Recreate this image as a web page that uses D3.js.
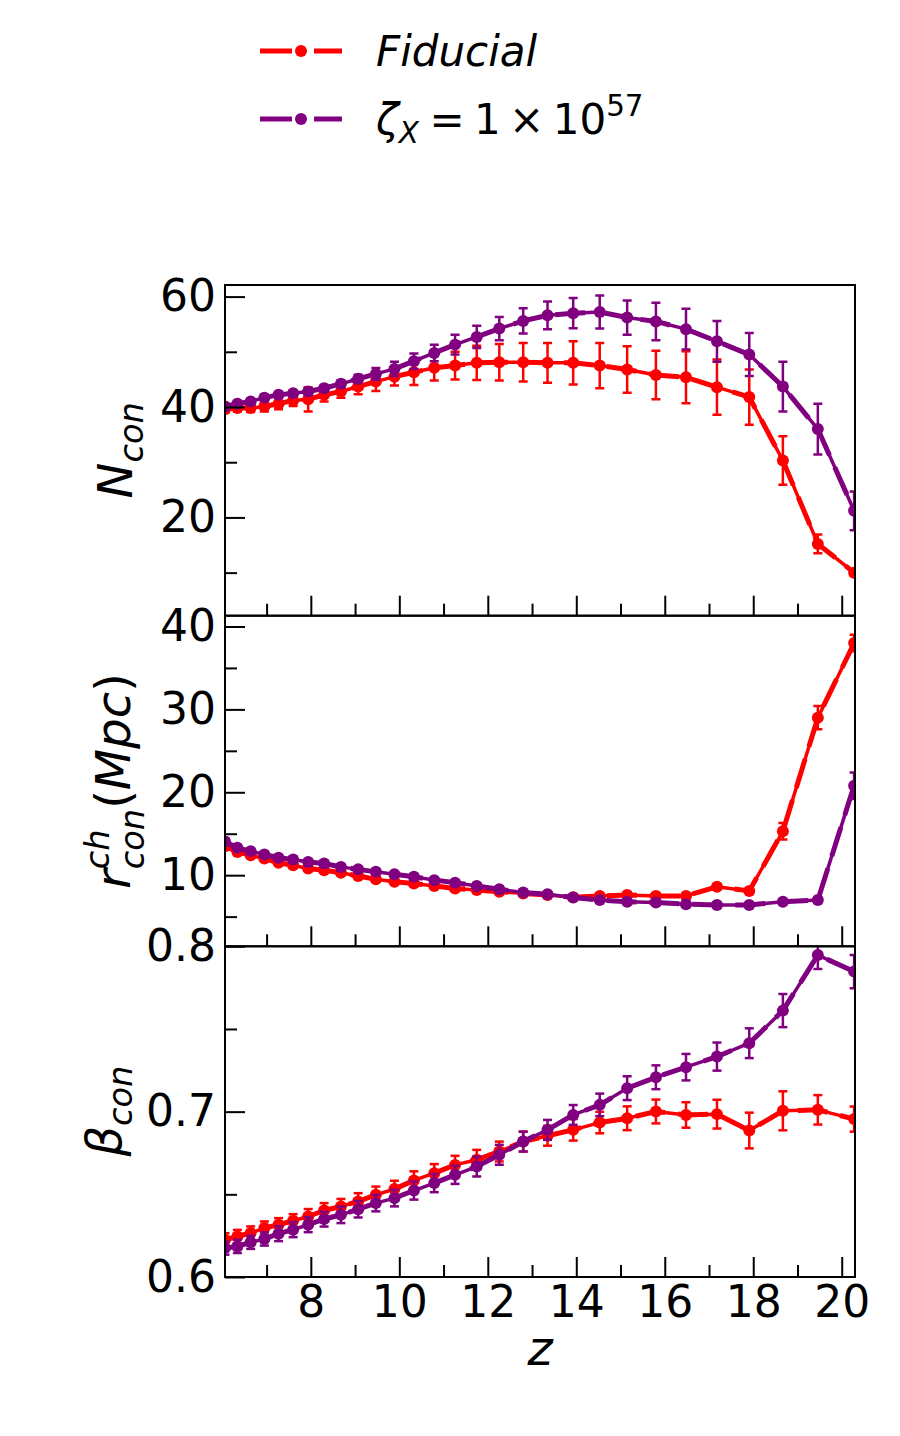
<!DOCTYPE html>
<html><head><meta charset="utf-8">
<script src="https://cdn.jsdelivr.net/npm/d3@7"></script>
<style>body{margin:0;background:#fff} svg{display:block} text{font-family:"DejaVu Sans",sans-serif;fill:#000}</style>
</head><body><svg id="c" width="900" height="1436"></svg>
<script>
// ---------- data ----------
const z = [6.06, 6.34, 6.64, 6.95, 7.27, 7.60, 7.94, 8.30, 8.68, 9.07, 9.47, 9.89, 10.33, 10.79, 11.26, 11.75, 12.26, 12.80, 13.35, 13.93, 14.53, 15.15, 15.80, 16.48, 17.18, 17.91, 18.67, 19.46, 20.28];

const seriesNames = ["Fiducial", "zeta"];

const Ncon_fid = [39.6, 39.8, 39.8, 40.1, 40.6, 41.2, 41.4, 42.2, 42.8, 43.7, 44.6, 45.5, 46.3, 47.1, 47.5, 48.0, 48.1, 48.1, 48.0, 48.0, 47.5, 46.8, 45.8, 45.4, 43.6, 41.8, 30.3, 15.2, 10.0];
const Ncon_fid_err = [0.6, 0.6, 0.7, 0.9, 1.0, 1.0, 2.2, 1.2, 1.1, 1.4, 1.7, 1.6, 2.3, 2.3, 2.5, 3.1, 3.3, 3.5, 3.6, 3.9, 4.1, 4.2, 4.4, 4.7, 5.0, 5.0, 4.4, 1.7, 0.6];
const Ncon_zeta = [40.1, 40.6, 41.0, 41.7, 42.2, 42.5, 42.8, 43.4, 44.2, 45.1, 46.0, 46.9, 48.3, 49.8, 51.3, 52.7, 54.2, 55.6, 56.6, 57.0, 57.2, 56.2, 55.5, 54.1, 51.9, 49.5, 43.7, 36.0, 21.2];
const Ncon_zeta_err = [0.5, 0.5, 0.5, 0.5, 0.5, 0.5, 0.6, 0.6, 0.6, 0.75, 1.05, 1.3, 1.4, 1.5, 1.8, 2.0, 2.1, 2.3, 2.5, 2.75, 3.0, 3.1, 3.4, 3.7, 3.7, 3.9, 4.5, 4.6, 3.5];

const rcon_fid = [13.5, 12.8, 12.4, 12.0, 11.5, 11.2, 10.8, 10.6, 10.3, 9.9, 9.5, 9.2, 9.0, 8.7, 8.4, 8.2, 8.0, 7.8, 7.6, 7.35, 7.5, 7.6, 7.5, 7.5, 8.6, 8.1, 15.3, 29.0, 38.0];
const rcon_fid_err = [0.3, 0.3, 0.3, 0.3, 0.3, 0.3, 0.3, 0.3, 0.3, 0.3, 0.3, 0.3, 0.3, 0.3, 0.3, 0.3, 0.3, 0.3, 0.3, 0.3, 0.3, 0.3, 0.3, 0.3, 0.3, 0.3, 1.0, 1.4, 1.0];
const rcon_zeta = [14.05, 13.3, 12.9, 12.5, 12.1, 11.9, 11.6, 11.4, 11.0, 10.7, 10.4, 10.1, 9.8, 9.4, 9.1, 8.7, 8.3, 7.9, 7.7, 7.3, 7.0, 6.8, 6.7, 6.5, 6.4, 6.4, 6.8, 7.0, 20.8];
const rcon_zeta_err = [0.3, 0.3, 0.3, 0.3, 0.3, 0.3, 0.3, 0.3, 0.3, 0.3, 0.3, 0.3, 0.3, 0.3, 0.3, 0.3, 0.3, 0.3, 0.3, 0.3, 0.3, 0.3, 0.3, 0.3, 0.3, 0.3, 0.3, 0.3, 1.6];

const beta_fid = [0.6225, 0.6245, 0.6266, 0.6296, 0.6316, 0.634, 0.6366, 0.6402, 0.6427, 0.6457, 0.6497, 0.6532, 0.6584, 0.6628, 0.6678, 0.6709, 0.6759, 0.6819, 0.6854, 0.689, 0.6934, 0.696, 0.7001, 0.698, 0.6985, 0.6886, 0.7005, 0.7011, 0.6955];
const beta_fid_err = [0.004, 0.004, 0.004, 0.004, 0.004, 0.004, 0.0045, 0.0045, 0.0045, 0.005, 0.005, 0.005, 0.0055, 0.0055, 0.0055, 0.006, 0.006, 0.006, 0.006, 0.0065, 0.0065, 0.0072, 0.0072, 0.0077, 0.0087, 0.0108, 0.0118, 0.0089, 0.0076];
const beta_zeta = [0.6175, 0.6185, 0.621, 0.623, 0.6262, 0.6286, 0.6316, 0.635, 0.6376, 0.641, 0.6447, 0.6477, 0.6523, 0.6568, 0.6618, 0.6668, 0.6739, 0.6819, 0.689, 0.698, 0.7041, 0.7142, 0.7208, 0.7269, 0.7333, 0.7414, 0.7611, 0.7947, 0.7847];
const beta_zeta_err = [0.004, 0.004, 0.004, 0.004, 0.0045, 0.0045, 0.0045, 0.0045, 0.005, 0.005, 0.005, 0.005, 0.0055, 0.0055, 0.0055, 0.006, 0.006, 0.006, 0.006, 0.006, 0.0068, 0.0072, 0.0072, 0.008, 0.0085, 0.009, 0.010, 0.0085, 0.010];

const xMajor = [8, 10, 12, 14, 16, 18, 20];
const xMinor = [7, 9, 11, 13, 15, 17, 19];
const N_major = [20, 40, 60], N_minor = [10, 30, 50];
const r_major = [10, 20, 30, 40], r_minor = [5, 15, 25, 35];
const b_major = [0.6, 0.7, 0.8], b_minor = [0.65, 0.75];

// ---------- drawing ----------
const RED = "#ff0000", PURPLE = "#800080";
const colors = [RED, PURPLE];
const svg = d3.select("#c");
const X0 = 225, X1 = 855;
const x = d3.scaleLinear().domain([6.06, 20.30]).range([X0, X1]);
const TICKF = 44, LABF = 48;

function mathText(g, pieces, F) {
  let cx = 0;
  const add = (q, at) => {
    const t = g.append("text").attr("x", at).attr("y", (q.dy || 0) * F)
      .style("font-size", ((q.s || 1) * F) + "px")
      .style("font-style", q.it ? "italic" : "normal")
      .text(q.t);
    return t.node().getComputedTextLength();
  };
  pieces.forEach(p => {
    if (p.stack) {
      let w = 0;
      p.stack.forEach(q => { w = Math.max(w, add(q, cx)); });
      cx += w;
    } else {
      cx += add(p, cx) + (p.gap || 0) * F;
    }
  });
  return cx;
}

const panels = [
  { top: 285, bot: 615.7, domain: [2.2, 62.1], major: N_major, minor: N_minor, fmt: d3.format("d"),
    data: [[Ncon_fid, Ncon_fid_err], [Ncon_zeta, Ncon_zeta_err]],
    label: [{t: "N", it: true}, {t: "con", it: true, s: 0.7, dy: 0.22}], right: 151 },
  { top: 615.7, bot: 946.3, domain: [1.42, 41.3], major: r_major, minor: r_minor, fmt: d3.format("d"),
    data: [[rcon_fid, rcon_fid_err], [rcon_zeta, rcon_zeta_err]],
    label: [{t: "r", it: true}, {stack: [{t: "ch", it: true, s: 0.7, dy: -0.42}, {t: "con", it: true, s: 0.7, dy: 0.3}]},
            {t: "(", it: false}, {t: "Mpc", it: true}, {t: ")", it: false}], right: 152 },
  { top: 946.3, bot: 1277, domain: [0.6, 0.8], major: b_major, minor: b_minor, fmt: d3.format(".1f"),
    data: [[beta_fid, beta_fid_err], [beta_zeta, beta_zeta_err]],
    label: [{t: "β", it: true}, {t: "con", it: true, s: 0.7, dy: 0.22}], right: 140 }
];

panels.forEach((P, pi) => {
  const y = d3.scaleLinear().domain(P.domain).range([P.bot, P.top]);
  const clipId = "clip" + pi;
  svg.append("clipPath").attr("id", clipId).append("rect")
    .attr("x", X0).attr("y", P.top).attr("width", X1 - X0).attr("height", P.bot - P.top);
  const g = svg.append("g").attr("clip-path", `url(#${clipId})`);

  P.data.forEach(([vals, errs], si) => {
    const c = colors[si];
    const pts = z.map((zz, i) => ({ z: zz, v: vals[i], e: errs[i] }));
    const sg = g.append("g");
    const line = d3.line().x(d => x(d.z)).y(d => y(d.v));
    sg.selectAll("line.eb").data(pts).join("line")
      .attr("x1", d => x(d.z)).attr("x2", d => x(d.z))
      .attr("y1", d => y(d.v - d.e)).attr("y2", d => y(d.v + d.e))
      .attr("stroke", c).attr("stroke-width", 2.5);
    ["lo", "hi"].forEach(k => {
      sg.selectAll("line.cap" + k).data(pts).join("line")
        .attr("x1", d => x(d.z) - 4.5).attr("x2", d => x(d.z) + 4.5)
        .attr("y1", d => y(k === "lo" ? d.v - d.e : d.v + d.e))
        .attr("y2", d => y(k === "lo" ? d.v - d.e : d.v + d.e))
        .attr("stroke", c).attr("stroke-width", 2.5);
    });
    sg.append("path").datum(pts).attr("d", line).attr("fill", "none")
      .attr("stroke", c).attr("stroke-width", 3.5).attr("stroke-linejoin", "round");
    sg.append("path").datum(pts).attr("d", line).attr("fill", "none")
      .attr("stroke", c).attr("stroke-width", 5).attr("stroke-dasharray", "30,13");
    sg.selectAll("circle").data(pts).join("circle")
      .attr("cx", d => x(d.z)).attr("cy", d => y(d.v)).attr("r", 6).attr("fill", c);
  });

  svg.append("rect").attr("x", X0).attr("y", P.top).attr("width", X1 - X0).attr("height", P.bot - P.top)
    .attr("fill", "none").attr("stroke", "#000").attr("stroke-width", 2);

  const yMaj = d3.axisLeft(y).tickValues(P.major).tickSizeInner(-20).tickSizeOuter(0).tickPadding(9).tickFormat(P.fmt);
  const ya = svg.append("g").attr("transform", `translate(${X0},0)`).call(yMaj);
  const yMin = d3.axisLeft(y).tickValues(P.minor).tickSizeInner(-12).tickSizeOuter(0).tickFormat("");
  const yb = svg.append("g").attr("transform", `translate(${X0},0)`).call(yMin);
  const last = pi === panels.length - 1;
  const xMaj = d3.axisBottom(x).tickValues(xMajor).tickSizeInner(-20).tickSizeOuter(0).tickPadding(9)
    .tickFormat(last ? d3.format("d") : "");
  const xa = svg.append("g").attr("transform", `translate(0,${P.bot})`).call(xMaj);
  const xMin = d3.axisBottom(x).tickValues(xMinor).tickSizeInner(-12).tickSizeOuter(0).tickFormat("");
  const xb = svg.append("g").attr("transform", `translate(0,${P.bot})`).call(xMin);
  [ya, yb, xa, xb].forEach(a => {
    a.select(".domain").remove();
    a.selectAll("line").attr("stroke", "#000").attr("stroke-width", 2);
    a.selectAll("text").attr("font-family", null).style("font-size", TICKF + "px").attr("fill", "#000");
  });

  const lg = svg.append("g");
  const inner = lg.append("g");
  mathText(inner, P.label, LABF);
  const bb = inner.node().getBBox();
  const cy = (P.top + P.bot) / 2;
  const tx = P.right - (bb.y + bb.height);
  const ty = cy + (bb.x + bb.width / 2);
  lg.attr("transform", `translate(${tx},${ty}) rotate(-90)`);
});

svg.append("text").attr("x", (X0 + X1) / 2).attr("y", 1365).attr("text-anchor", "middle")
  .style("font-size", LABF + "px").style("font-style", "italic").text("z");

const legRows = [
  { y: 51, c: RED, pieces: [{t: "Fiducial", it: true}] },
  { y: 119, c: PURPLE, pieces: [{t: "ζ", it: true}, {t: "X", it: true, s: 0.7, dy: 0.22, gap: 0.25},
      {t: "=", it: false, gap: 0.22}, {t: "1", it: false, gap: 0.2}, {t: "×", it: false, gap: 0.2},
      {t: "10", it: false}, {t: "57", it: false, s: 0.7, dy: -0.42}] }
];
legRows.forEach(r => {
  const lg = svg.append("g");
  lg.append("line").attr("x1", 260).attr("x2", 292).attr("y1", r.y).attr("y2", r.y).attr("stroke", r.c).attr("stroke-width", 5);
  lg.append("line").attr("x1", 314).attr("x2", 342).attr("y1", r.y).attr("y2", r.y).attr("stroke", r.c).attr("stroke-width", 5);
  lg.append("circle").attr("cx", 301).attr("cy", r.y).attr("r", 6).attr("fill", r.c);
  const tg = lg.append("g").attr("transform", `translate(376,${r.y + 15})`);
  mathText(tg, r.pieces, 42);
});
</script></body></html>
